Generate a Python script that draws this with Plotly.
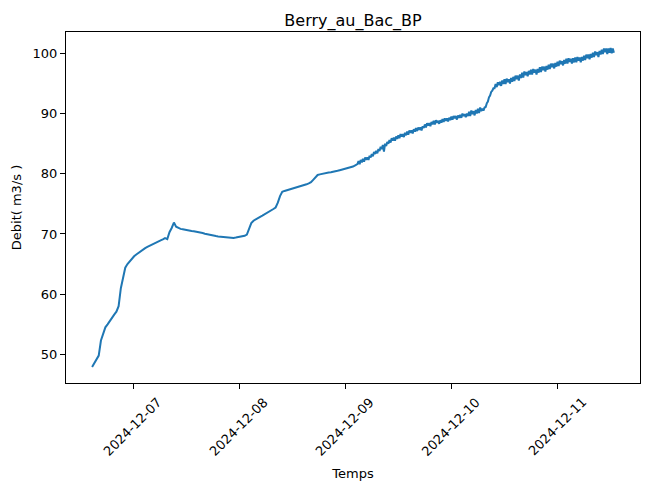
import pandas as pd
import plotly.graph_objects as go

title = "Berry_au_Bac_BP"
x_label = "Temps"
y_label = "Debit( m3/s )"
smooth_start = "2024-12-06 14:45"
smooth_step = "30min"
noisy_start = "2024-12-09 03:00"
noisy_step = "15min"
tick_dates = ["2024-12-07", "2024-12-08", "2024-12-09", "2024-12-10", "2024-12-11"]
y_ticks = [50, 60, 70, 80, 90, 100]

# smooth part of the record, one value every 30 minutes
debit_day6 = [47.9, 48.6, 49.2, 49.8, 52.3, 53.6, 54.5, 55.0, 55.6, 56.1, 56.6, 57.1,
              58.0, 61.0, 62.9, 64.4, 65.0, 65.5, 65.95]
debit_day7 = [66.3, 66.6, 66.9, 67.15, 67.4, 67.65, 67.85, 68.05, 68.25, 68.45, 68.6, 68.75,
              68.95, 69.1, 69.3, 69.15, 70.3, 71.0, 71.9, 71.2, 71.0, 70.85, 70.8, 70.7,
              70.65, 70.55, 70.5, 70.45, 70.4, 70.3, 70.2, 70.15, 70.05, 69.95, 69.9, 69.8,
              69.7, 69.65, 69.6, 69.55, 69.5, 69.45, 69.4, 69.45, 69.4, 69.35, 69.4, 69.45]
debit_day8 = [69.5, 69.55, 69.7, 69.9, 70.8, 71.8, 72.2, 72.45, 72.65, 72.85, 73.05, 73.25,
              73.45, 73.7, 73.9, 74.15, 74.4, 75.2, 76.3, 77.0, 77.15, 77.25, 77.35, 77.5,
              77.6, 77.7, 77.8, 77.9, 78.0, 78.1, 78.25, 78.4, 78.6, 79.0, 79.5, 79.8,
              79.9, 80.0, 80.05, 80.1, 80.2, 80.25, 80.3, 80.4, 80.5, 80.6, 80.7, 80.75]
debit_day9_early = [80.9, 81.0, 81.1, 81.2, 81.4, 81.6]

# noisy part of the record, one value every 15 minutes
debit_day9_late = [
    82.1, 81.6, 82.3, 81.9, 82.5, 82.0, 82.7, 82.3, 82.7, 82.3, 83.0, 82.7,
    83.3, 82.9, 83.6, 83.3, 83.8, 83.4, 84.1, 83.8, 84.5, 84.1, 84.8, 83.7,
    85.0, 84.6, 85.3, 85.0, 85.6, 85.2, 85.9, 85.5, 86.0, 85.5, 86.2, 85.8,
    86.4, 85.9, 86.6, 86.2, 86.6, 86.1, 86.8, 86.4, 87.0, 86.5, 87.2, 86.8,
    87.2, 86.7, 87.4, 87.0, 87.6, 87.1, 87.7, 87.3, 87.7, 87.2, 87.9, 87.6,
    88.2, 87.7, 88.4, 88.0, 88.4, 87.9, 88.6, 88.2, 88.8, 88.2, 88.9, 88.5,
    88.8, 88.3, 88.9, 88.5, 89.1, 88.6, 89.2, 88.8, 89.2, 88.7, 89.3, 88.9,
]
debit_day10 = [
    89.5, 89.0, 89.6, 89.2, 89.6, 89.0, 89.7, 89.3, 89.8, 89.3, 90.0, 89.6,
    89.9, 89.4, 90.0, 89.6, 90.3, 89.6, 90.5, 89.9, 90.4, 89.7, 90.6, 90.0,
    90.8, 90.1, 91.0, 90.4, 90.8, 90.5, 91.0, 91.1, 91.7, 92.0, 92.7, 93.0,
    93.6, 93.8, 94.2, 94.2, 94.9, 94.4, 95.2, 94.7, 95.3, 94.6, 95.5, 94.9,
    95.7, 94.9, 95.8, 95.2, 95.7, 95.0, 95.9, 95.3, 96.1, 95.4, 96.3, 95.7,
    96.3, 95.5, 96.5, 95.9, 96.8, 96.0, 97.0, 96.4, 96.9, 96.2, 97.1, 96.5,
    97.3, 96.5, 97.4, 96.8, 97.3, 96.5, 97.4, 96.8, 97.7, 96.9, 97.8, 97.2,
    97.8, 97.0, 97.9, 97.3, 98.1, 97.4, 98.3, 97.7, 98.3, 97.5, 98.4, 97.8,
]
debit_day11 = [
    98.6, 97.9, 98.8, 98.2, 98.7, 98.0, 98.9, 98.3, 99.1, 98.3, 99.2, 98.6,
    99.1, 98.3, 99.2, 98.5, 99.3, 98.5, 99.4, 98.8, 99.3, 98.5, 99.4, 98.8,
    99.6, 98.9, 99.8, 99.2, 99.8, 99.0, 99.9, 99.3, 100.1, 99.4, 100.3, 99.7,
    100.2, 99.4, 100.4, 99.8, 100.6, 99.9, 100.8, 100.2, 100.8, 99.9, 100.8, 100.1,
    100.9, 100.0, 100.8, 100.1,
]

debit_smooth = debit_day6 + debit_day7 + debit_day8 + debit_day9_early
debit_noisy = debit_day9_late + debit_day10 + debit_day11
times = pd.date_range(start=smooth_start, periods=len(debit_smooth), freq=smooth_step).append(
    pd.date_range(start=noisy_start, periods=len(debit_noisy), freq=noisy_step))
debit = debit_smooth + debit_noisy

# matplotlib-like 5% margins
t0, t1 = times[0], times[-1]
tpad = (t1 - t0) * 0.05
x_range = [t0 - tpad, t1 + tpad]
ymin, ymax = min(debit), max(debit)
ypad = (ymax - ymin) * 0.05
y_range = [ymin - ypad, ymax + ypad]

FONT = "DejaVu Sans"

fig = go.Figure()
fig.add_trace(go.Scatter(x=times, y=debit, mode="lines",
                         line=dict(color="#1f77b4", width=2), showlegend=False))

for d in tick_dates:
    fig.add_annotation(x=d, xref="x", y=-0.125, yref="paper", text=d, textangle=-45,
                       showarrow=False, xanchor="center", yanchor="middle",
                       font=dict(family=FONT, size=13, color="black"))

fig.update_layout(
    width=649, height=489,
    margin=dict(l=66, r=9, t=32, b=106),
    paper_bgcolor="white", plot_bgcolor="white",
    font=dict(family=FONT, size=13, color="black"),
    title=dict(text=title, x=0.5, xref="paper", y=1 - 20 / 489, yref="container",
               xanchor="center", yanchor="middle", font=dict(family=FONT, size=16, color="black")),
    xaxis=dict(range=x_range, tickvals=tick_dates, showticklabels=False, ticks="outside",
               ticklen=5, tickwidth=1, tickcolor="black", showline=True, mirror=True,
               linecolor="black", linewidth=1, showgrid=False, zeroline=False, automargin=False,
               title=dict(text=x_label, standoff=80, font=dict(family=FONT, size=13, color="black"))),
    yaxis=dict(range=y_range, tickvals=y_ticks, ticks="outside", ticklen=5, tickwidth=1,
               tickcolor="black", showline=True, mirror=True, linecolor="black", linewidth=1,
               showgrid=False, zeroline=False, automargin=False,
               tickfont=dict(family=FONT, size=13, color="black"),
               title=dict(text=y_label, standoff=8, font=dict(family=FONT, size=13, color="black"))),
)

fig.write_html("out.html", config={"displayModeBar": False},
               post_script="document.body.style.margin='0';")
